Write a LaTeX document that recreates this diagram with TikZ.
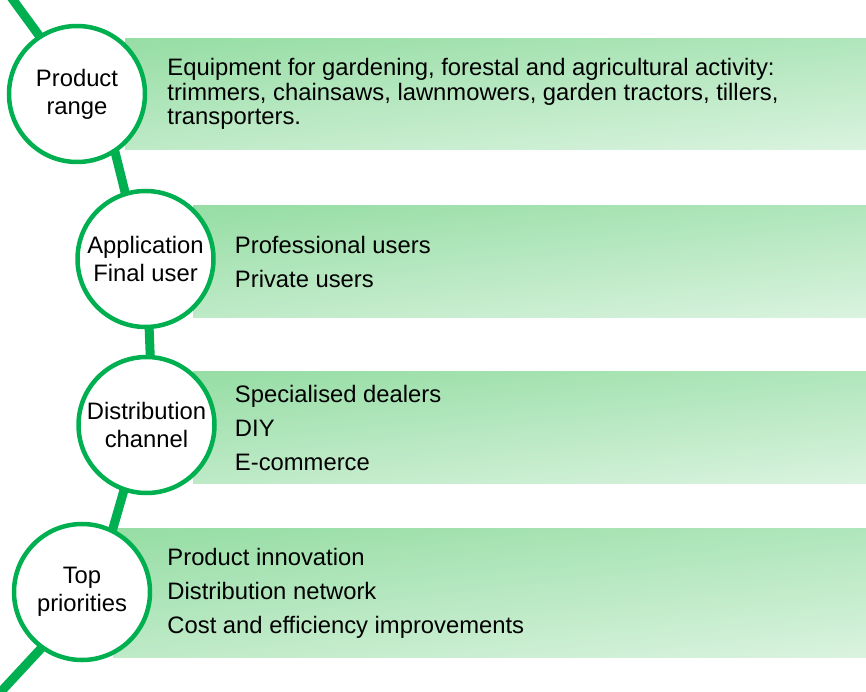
\documentclass[tikz,border=0pt]{standalone}
\usepackage{fontspec}
\setmainfont{Liberation Sans}
\usetikzlibrary{positioning,backgrounds,shadings}

\definecolor{ringgreen}{RGB}{0,176,80}
\definecolor{bandul}{RGB}{150,221,164}
\definecolor{bandur}{RGB}{176,230,187}
\definecolor{bandll}{RGB}{190,234,199}
\definecolor{bandlr}{RGB}{218,243,223}

\begin{document}
\begin{tikzpicture}[
			x=1pt, y=-1pt,
			stage/.style={
				circle,
				draw=ringgreen,
				line width=4.5pt,
				fill=white,
				minimum size=136pt,
				inner sep=0,
				align=center,
				font=\fontsize{23.8}{28}\selectfont
			},
			band/.style={
				rectangle,
				inner sep=0,
				anchor=north west,
				upper left=bandul,
				upper right=bandur,
				lower left=bandll,
				lower right=bandlr
			},
			item/.style={
				inner sep=0,
				anchor=west,
				align=left,
				font=\fontsize{23.8}{24.5}\selectfont
			},
			spine/.style={
				draw=ringgreen,
				line width=9pt,
				shorten <=-4pt,
				shorten >=-4pt
			}
		]

		\useasboundingbox (0,0) rectangle (866,692);

		\node [stage] (C1) at (77,94) {Product\\range};
		\node [stage] (C2) at (145.5,259) {Application\\Final user};
		\node [stage] (C3) at (146.5,425) {Distribution\\channel};
		\node [stage] (C4) at (82,592) {Top\\priorities};

		\node [item, right=20pt of C1] (T1) {Equipment for gardening, forestal and agricultural activity:\\trimmers, chainsaws, lawnmowers, garden tractors, tillers,\\transporters.};
		\node [item, right=19pt of C2, yshift=-3pt] (T2) {Professional users\\[9.5pt]Private users};
		\node [item, right=18pt of C3, yshift=-3pt] (T3) {Specialised dealers\\[9.5pt]DIY\\[9.5pt]E-commerce};
		\node [item, right=15pt of C4, yshift=-1pt] (T4) {Product innovation\\[9.5pt]Distribution network\\[9.5pt]Cost and efficiency improvements};

		\coordinate (top) at (8,-7);
		\coordinate (bottom) at (-4,697);

		\begin{pgfonlayer}{background}
			\node [band, minimum width=741pt, minimum height=111pt] (B1) at (125,38) {};
			\node [band, minimum width=673pt, minimum height=112pt] (B2) at (193,205) {};
			\node [band, minimum width=673pt, minimum height=112pt] (B3) at (193,371) {};
			\node [band, minimum width=753pt, minimum height=129pt] (B4) at (113,528) {};

			\draw [spine] (top) -- (C1.123);
			\draw [spine] (C1.-57) -- (C2.107);
			\draw [spine] (C2.-87) -- (C3.87);
			\draw [spine] (C3.-109) -- (C4.64);
			\draw [spine] (C4.-126) -- (bottom);
		\end{pgfonlayer}

	\end{tikzpicture}
\end{document}
